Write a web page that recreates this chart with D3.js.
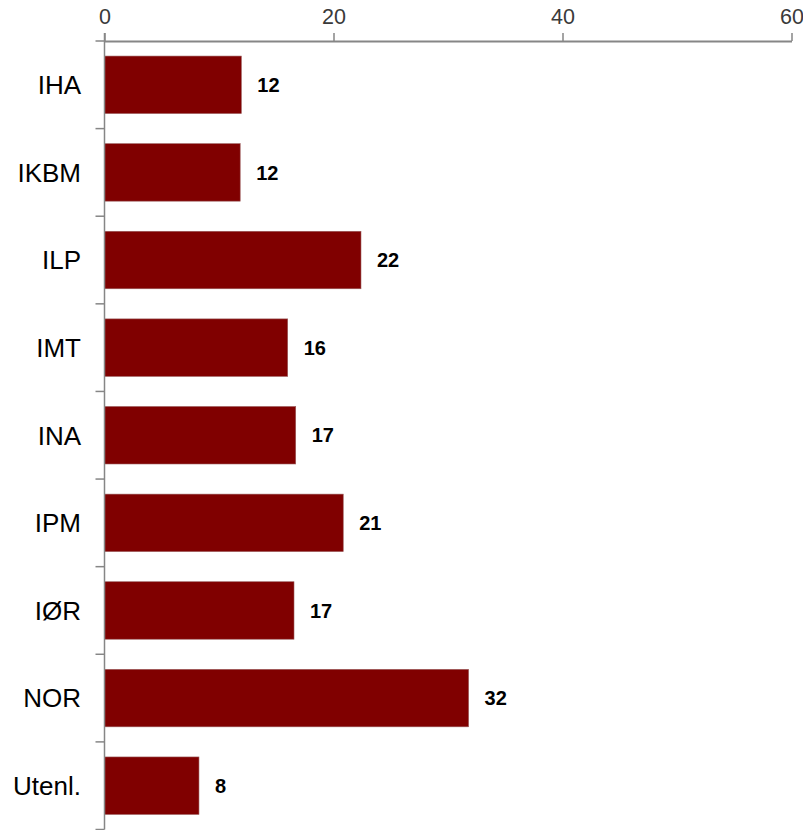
<!DOCTYPE html>
<html><head><meta charset="utf-8">
<script src="https://cdn.jsdelivr.net/npm/d3@7"></script>
<style>
html,body{margin:0;padding:0;background:#fff;}
svg{display:block;}
</style></head>
<body>
<svg id="chart" width="803" height="830"></svg>
<script>
const categories = ["IHA","IKBM","ILP","IMT","INA","IPM","IØR","NOR","Utenl."];
const values = [11.95, 11.85, 22.4, 16.0, 16.7, 20.85, 16.55, 31.8, 8.25];
const xTicks = [0, 20, 40, 60];

const svg = d3.select("#chart");
const x = d3.scaleLinear().domain([0, 60]).range([104.5, 791.5]);
const y = d3.scaleBand().domain(categories).range([41, 829.5]).paddingInner(0.344).paddingOuter(0.172);

const axisColor = "#868686";
const font = "'Liberation Sans', Arial, sans-serif";

// bars
svg.append("g").selectAll("rect").data(values).join("rect")
  .attr("x", x(0))
  .attr("y", (d,i) => y(categories[i]))
  .attr("width", d => x(d) - x(0))
  .attr("height", y.bandwidth())
  .attr("fill", "#800000")
  .attr("stroke", "#9a5a5a")
  .attr("stroke-width", 0.6);

// x axis (top)
const xa = svg.append("g").attr("transform", "translate(0,41)")
  .call(d3.axisTop(x).tickValues(xTicks).tickSize(8).tickSizeOuter(0).tickPadding(9).tickFormat(d3.format("d")));
xa.select(".domain").attr("stroke", axisColor).attr("stroke-width", 2);
xa.selectAll(".tick line").attr("stroke", axisColor).attr("stroke-width", 1.5);
xa.selectAll(".tick text").attr("fill", "#3a3a3a").style("font-family", font).style("font-size", "21.5px");

// y axis (left), ticks at band boundaries
const yg = svg.append("g");
const r = y.range();
yg.append("line").attr("x1", x(0)).attr("x2", x(0)).attr("y1", 33).attr("y2", r[1])
  .attr("stroke", axisColor).attr("stroke-width", 1.5);
const bounds = d3.range(categories.length + 1).map(i => r[0] + i * y.step());
yg.selectAll("line.b").data(bounds).join("line").attr("class", "b")
  .attr("x1", x(0) - 9).attr("x2", x(0)).attr("y1", d => d).attr("y2", d => d)
  .attr("stroke", axisColor).attr("stroke-width", 1.5);

// category labels
svg.append("g").selectAll("text").data(categories).join("text")
  .attr("x", 81)
  .attr("y", d => y(d) + y.bandwidth() / 2)
  .attr("dy", "0.36em")
  .attr("text-anchor", "end")
  .style("font-family", font).style("font-size", "26px").attr("fill", "#000")
  .text(d => d);

// value labels
svg.append("g").selectAll("text").data(values).join("text")
  .attr("x", d => x(d) + 16)
  .attr("y", (d,i) => y(categories[i]) + y.bandwidth() / 2)
  .attr("dy", "0.36em")
  .style("font-family", font).style("font-size", "20px").style("font-weight", "bold").attr("fill", "#000")
  .text(d => Math.round(d));
</script>
</body></html>
